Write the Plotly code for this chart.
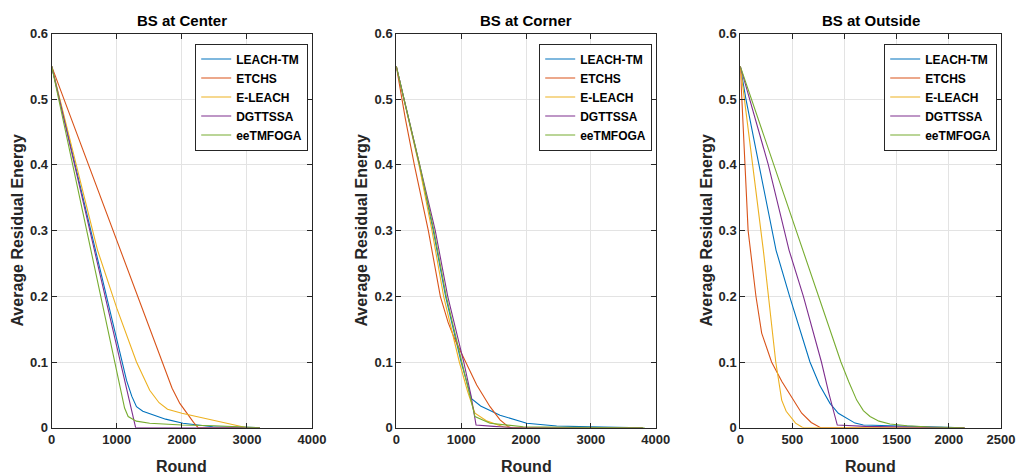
import plotly.graph_objects as go

# ---------------- data ----------------
series_names = ["LEACH-TM", "ETCHS", "E-LEACH", "DGTTSSA", "eeTMFOGA"]
series_colors = ["#0072BD", "#D95319", "#EDB120", "#7E2F8E", "#77AC30"]
panel_titles = ["BS at Center", "BS at Corner", "BS at Outside"]
x_ranges = [[0, 4000], [0, 4000], [0, 2500]]
x_dticks = [1000, 1000, 500]

# BS at Center
center_leach_x = [0, 1075, 1150, 1230, 1303, 1400, 1506, 1750, 2017, 2300, 2477, 3000, 3200]
center_leach_y = [0.55, 0.1, 0.072, 0.048, 0.032, 0.025, 0.021, 0.013, 0.0067, 0.003, 0.0015, 0.0005, 0]
center_etchs_x = [0, 1692, 1850, 1969, 2100, 2180, 2250, 3200]
center_etchs_y = [0.55, 0.1, 0.06, 0.037, 0.018, 0.008, 0.0, 0]
center_eleach_x = [0, 705, 1000, 1303, 1506, 1650, 1780, 2000, 2500, 2920, 3000]
center_eleach_y = [0.55, 0.27, 0.182, 0.1, 0.057, 0.038, 0.028, 0.022, 0.011, 0.001, 0]
center_dgtt_x = [0, 1290, 3200]
center_dgtt_y = [0.55, 0.0, 0]
center_eetm_x = [0, 970, 1060, 1120, 1175, 1300, 1506, 2000, 2500, 3200]
center_eetm_y = [0.55, 0.1, 0.055, 0.03, 0.017, 0.01, 0.0067, 0.004, 0.003, 0]

# BS at Corner
corner_leach_x = [0, 355, 570, 760, 1000, 1100, 1160, 1300, 1599, 2011, 2473, 3000, 3800]
corner_leach_y = [0.55, 0.4, 0.3, 0.2, 0.1, 0.063, 0.044, 0.033, 0.019, 0.0067, 0.0025, 0.0012, 0]
corner_etchs_x = [0, 140, 278, 494, 679, 800, 900, 1000, 1100, 1240, 1445, 1600, 1727, 1780, 3800]
corner_etchs_y = [0.55, 0.47, 0.4, 0.3, 0.2, 0.16, 0.135, 0.115, 0.093, 0.065, 0.032, 0.012, 0.0015, 0, 0]
corner_eleach_x = [0, 350, 550, 730, 972, 1100, 1213, 1400, 1650, 1800, 3800]
corner_eleach_y = [0.55, 0.4, 0.3, 0.2, 0.1, 0.055, 0.022, 0.01, 0.0015, 0, 0]
corner_dgtt_x = [0, 366, 601, 793, 1040, 1150, 1230, 1500, 1800, 3800]
corner_dgtt_y = [0.55, 0.4, 0.3, 0.2, 0.1, 0.05, 0.004, 0.002, 0, 0]
corner_eetm_x = [0, 360, 580, 770, 1010, 1120, 1213, 1445, 1958, 2600, 3830]
corner_eetm_y = [0.55, 0.4, 0.3, 0.2, 0.1, 0.055, 0.017, 0.0067, 0.0015, 0.0007, 0]

# BS at Outside
outside_leach_x = [0, 54, 179, 343, 473, 570, 668, 760, 860, 940, 1020, 1100, 1180, 1500, 2000, 2150]
outside_leach_y = [0.55, 0.5, 0.4, 0.27, 0.2, 0.15, 0.1, 0.065, 0.037, 0.022, 0.014, 0.007, 0.004, 0.003, 0.001, 0]
outside_etchs_x = [0, 13, 45, 75, 99, 150, 205, 300, 400, 493, 589, 680, 770, 2150]
outside_etchs_y = [0.55, 0.5, 0.4, 0.3, 0.27, 0.2, 0.144, 0.1, 0.07, 0.047, 0.022, 0.008, 0, 0]
outside_eleach_x = [0, 119, 221, 340, 375, 397, 440, 477, 530, 590, 610, 2150]
outside_eleach_y = [0.55, 0.4, 0.27, 0.1, 0.06, 0.042, 0.025, 0.017, 0.007, 0.001, 0, 0]
outside_dgtt_x = [0, 269, 468, 605, 778, 850, 930, 1200, 1600, 2000, 2150]
outside_dgtt_y = [0.55, 0.4, 0.27, 0.2, 0.1, 0.052, 0.004, 0.002, 0.001, 0.0003, 0]
outside_eetm_x = [0, 596, 965, 1040, 1116, 1180, 1244, 1330, 1435, 1600, 1820, 2150]
outside_eetm_y = [0.55, 0.27, 0.1, 0.07, 0.042, 0.026, 0.017, 0.01, 0.0056, 0.003, 0.001, 0]

panels = [
    [(center_leach_x, center_leach_y), (center_etchs_x, center_etchs_y), (center_eleach_x, center_eleach_y),
     (center_dgtt_x, center_dgtt_y), (center_eetm_x, center_eetm_y)],
    [(corner_leach_x, corner_leach_y), (corner_etchs_x, corner_etchs_y), (corner_eleach_x, corner_eleach_y),
     (corner_dgtt_x, corner_dgtt_y), (corner_eetm_x, corner_eetm_y)],
    [(outside_leach_x, outside_leach_y), (outside_etchs_x, outside_etchs_y), (outside_eleach_x, outside_eleach_y),
     (outside_dgtt_x, outside_dgtt_y), (outside_eetm_x, outside_eetm_y)],
]

# ---------------- layout geometry ----------------
W, H = 1016, 475
x_px = [(51.7, 312.0), (396.3, 655.7), (740.3, 1001.0)]
y_top, y_bot = 33.5, 427.7
ylab_px = [18, 362, 707]
legend_right_px = [308.2, 652.2, 997.2]
legend_top_px = 43.5

FONT = "Arial, 'Liberation Sans', Helvetica, sans-serif"
DARK = "#262626"

fig = go.Figure()
annotations = []
layout_axes = {}
legends = {}

for p in range(3):
    xa = "x" if p == 0 else f"x{p+1}"
    ya = "y" if p == 0 else f"y{p+1}"
    lg = "legend" if p == 0 else f"legend{p+1}"
    for s in range(5):
        xs, ys = panels[p][s]
        fig.add_trace(go.Scatter(
            x=xs, y=ys, mode="lines", name=series_names[s],
            line=dict(color=series_colors[s], width=1.1),
            xaxis=xa, yaxis=ya, legend=lg, showlegend=True,
        ))
    x0, x1 = x_px[p]
    dom_x = [x0 / W, x1 / W]
    dom_y = [1 - y_bot / H, 1 - y_top / H]
    axis_common = dict(
        showline=True, linecolor=DARK, linewidth=1, mirror="ticks",
        ticks="inside", ticklen=5, tickcolor=DARK,
        showgrid=True, gridcolor="#e3e3e3", gridwidth=1,
        zeroline=False, automargin=False,
        tickfont=dict(family=FONT, size=13, color=DARK, weight="bold"),
    )
    layout_axes["xaxis" if p == 0 else f"xaxis{p+1}"] = dict(
        domain=dom_x, range=x_ranges[p], dtick=x_dticks[p], tick0=0,
        anchor=ya, **axis_common)
    layout_axes["yaxis" if p == 0 else f"yaxis{p+1}"] = dict(
        domain=dom_y, range=[0, 0.6], dtick=0.1, tick0=0,
        anchor=xa, **axis_common)
    legends[lg] = dict(
        x=legend_right_px[p] / W, y=1 - legend_top_px / H,
        xanchor="right", yanchor="top",
        bgcolor="white", bordercolor=DARK, borderwidth=1,
        font=dict(family=FONT, size=12, color="black", weight="bold"),
        itemwidth=30, tracegroupgap=0,
    )
    cx = (x0 + x1) / 2 / W
    annotations.append(dict(
        text="<b>" + panel_titles[p] + "</b>", x=cx, y=1 - 20 / H,
        xref="paper", yref="paper", showarrow=False,
        font=dict(family=FONT, size=15, color="black"),
        xanchor="center", yanchor="middle"))
    annotations.append(dict(
        text="<b>Round</b>", x=cx, y=1 - 466 / H,
        xref="paper", yref="paper", showarrow=False,
        font=dict(family=FONT, size=16, color=DARK),
        xanchor="center", yanchor="middle"))
    annotations.append(dict(
        text="<b>Average Residual Energy</b>", x=ylab_px[p] / W,
        y=1 - (y_top + y_bot) / 2 / H, textangle=-90,
        xref="paper", yref="paper", showarrow=False,
        font=dict(family=FONT, size=16, color=DARK),
        xanchor="center", yanchor="middle"))

fig.update_layout(
    width=W, height=H,
    margin=dict(l=0, r=0, t=0, b=0, autoexpand=False),
    paper_bgcolor="white", plot_bgcolor="white",
    annotations=annotations,
    **layout_axes,
    **legends,
)

fig.write_html(
    "out.html",
    config={"displayModeBar": False},
    post_script="document.body.style.margin='0';document.body.style.overflow='hidden';",
)
